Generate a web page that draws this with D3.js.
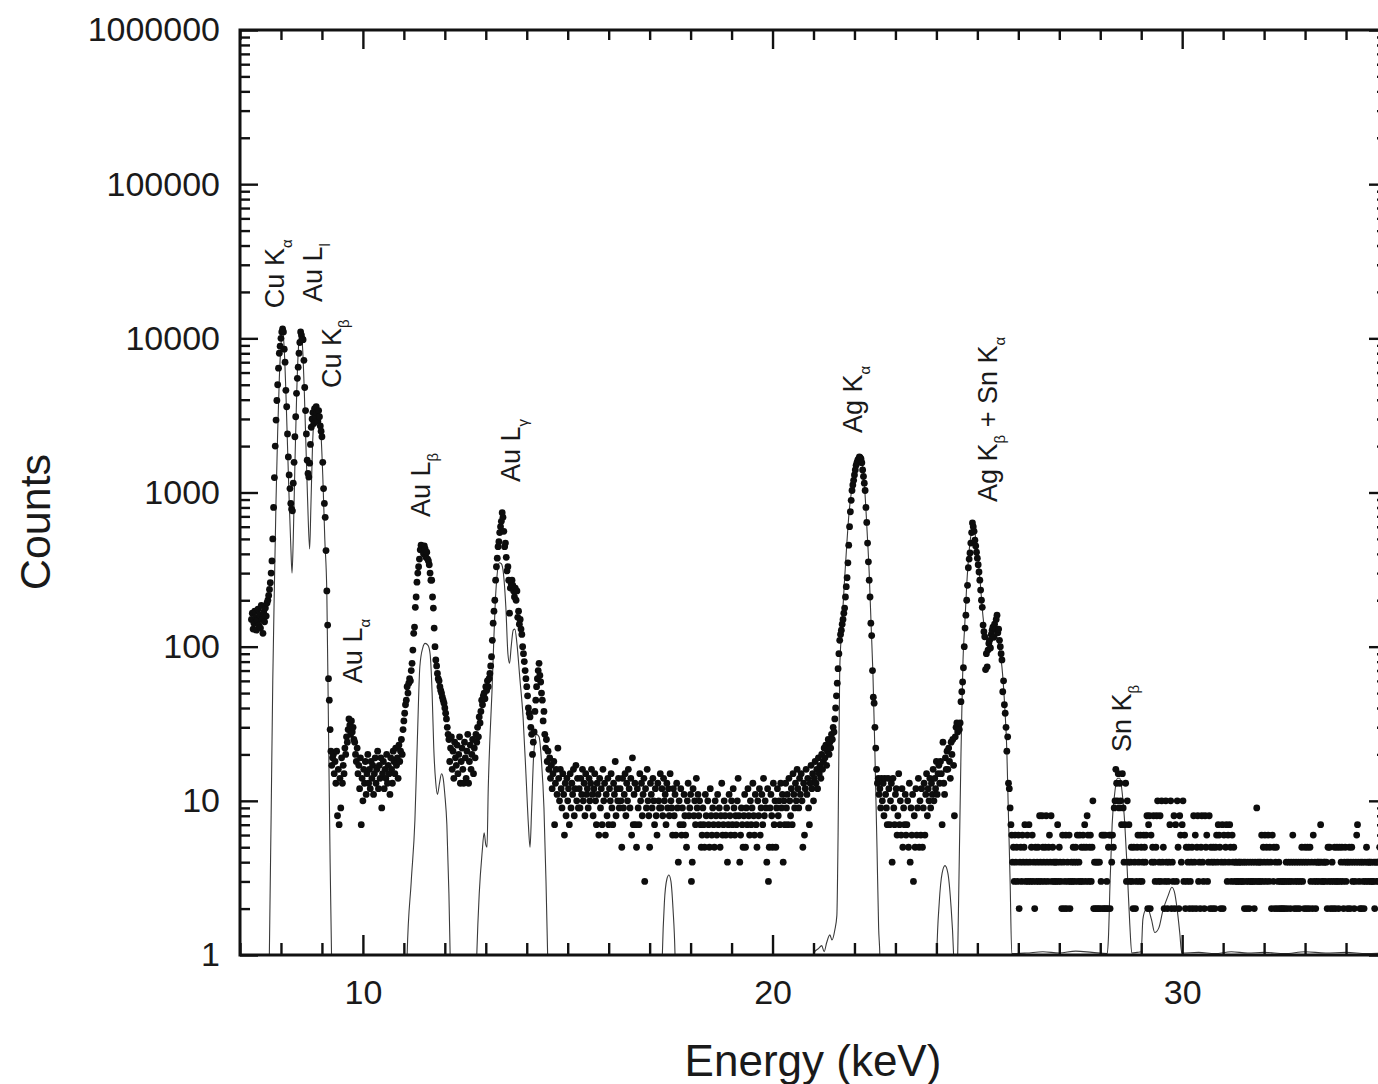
<!DOCTYPE html>
<html>
<head>
<meta charset="utf-8">
<script src="https://cdn.jsdelivr.net/npm/d3@7"></script>
<style>
  body { margin: 0; background: #ffffff; }
  text { font-family: "Liberation Sans", Arial, sans-serif; fill: #1a1a1a; }
</style>
</head>
<body>
<svg id="chart" width="1378" height="1084"></svg>
<script>
////////////////////////////////////////////////////////////////////////////////////
// Data
// measured spectrum: channel calibration (keV) and counts per channel, one keV per two lines
var startEnergy = 7.28;
var channelWidth = 0.02;
var counts = [
  // 7.28 keV
  150,165,130,142,170,155,128,148,175,138,160,132,185,150,122,168,145,178,158,192,200,215,235,260,300,
  360,500,800,1250,2000,2950,3950,5000,6400,8000,8900,10000,11000,11500,11000,8500,7000,4600,3600,2400,1700,1300,1060,850,780,
  // 8.28
  760,1150,1570,2300,3100,4400,5500,6500,8000,9400,11000,10500,9900,9800,7200,4800,3400,2400,1620,1330,1260,1550,2050,2650,3000,
  3300,2800,3500,3100,3600,3300,2900,3400,3100,2700,2500,2300,1570,1060,850,690,420,230,138,62,45,29,21,17,19,
  // 9.28
  20,15,18,13,21,8,16,7,14,9,19,13,17,15,22,20,26,24,29,34,31,27,33,28,30,
  25,24,20,18,22,15,17,12,19,7,14,10,16,13,18,11,15,20,13,16,12,18,14,17,11,
  // 10.28
  15,19,13,16,21,12,17,14,19,9,15,18,12,16,14,20,13,17,15,11,19,16,13,21,18,
  15,22,17,19,14,23,18,21,25,20,29,33,37,42,45,55,50,58,62,60,70,78,95,122,134,
  // 11.28
  180,210,262,300,330,370,425,455,440,420,400,450,430,380,410,370,360,340,300,270,270,210,178,132,100,
  82,75,67,62,60,55,52,50,47,45,43,40,37,34,30,27,25,18,22,26,16,21,14,24,19,
  // 12.28
  17,23,15,20,26,13,18,22,16,13,24,19,14,21,27,13,18,23,16,20,25,15,22,19,27,
  24,30,26,35,32,38,45,42,48,50,46,55,52,60,55,62,67,75,86,110,142,170,200,270,330,
  // 13.28
  375,445,480,550,600,650,740,690,560,445,470,380,310,330,270,165,240,255,270,250,230,210,240,200,230,
  155,170,140,150,130,120,100,90,80,70,62,55,48,40,37,35,30,27,20,24,28,38,45,55,62,
  // 14.28
  70,78,65,59,50,45,33,38,27,22,25,18,21,16,19,14,17,12,15,18,7,13,16,11,22,
  14,10,16,12,9,15,11,6,13,8,14,10,12,7,15,9,13,11,16,8,12,17,10,14,9,
  // 15.28
  12,9,14,11,16,10,13,8,15,11,12,9,14,10,13,16,11,8,12,15,10,7,13,11,6,
  14,9,12,7,16,10,13,6,11,8,14,7,12,10,15,9,7,13,11,18,8,12,10,14,9,
  // 16.28
  12,10,5,14,9,11,15,8,13,10,16,12,9,14,6,19,7,11,13,7,5,12,9,7,15,
  10,13,8,11,14,3,12,9,16,10,8,5,13,11,9,14,10,7,12,8,6,13,10,9,15,
  // 17.28
  9,12,8,14,10,11,7,13,9,12,8,15,10,9,6,12,8,11,6,13,9,4,10,7,12,
  6,9,7,11,8,6,5,10,13,8,9,11,3,4,12,8,10,7,14,9,11,8,10,7,5,
  // 18.28
  6,9,7,5,11,8,6,10,7,5,12,8,6,9,7,5,10,8,6,11,7,9,5,8,13,
  6,7,10,8,6,9,4,7,11,8,6,10,7,12,9,6,8,7,10,14,8,4,6,9,7,
  // 19.28
  5,8,11,5,9,7,12,8,6,10,7,9,13,8,6,11,7,5,10,8,12,6,9,11,7,
  14,8,10,9,4,12,3,5,9,11,8,5,13,7,10,5,9,12,8,10,7,13,9,11,4,
  // 20.28
  10,7,13,9,11,7,14,10,8,12,7,15,11,9,13,10,16,12,9,14,11,15,10,5,13,
  6,12,16,11,14,9,7,13,17,12,15,10,14,18,13,16,12,19,15,17,14,20,16,18,22,
  // 21.28
  19,23,17,21,25,20,24,22,27,25,30,28,34,40,48,58,72,90,110,120,128,140,150,165,178,
  210,245,280,350,455,600,750,890,1030,1120,1200,1300,1400,1500,1560,1620,1650,1700,1680,1650,1560,1400,1270,1150,1030,
  // 22.28
  800,640,470,355,270,210,142,118,70,47,43,30,22,16,13,14,11,12,9,14,10,13,8,14,11,
  9,7,14,12,7,10,13,4,14,9,7,11,12,6,8,15,7,10,6,12,5,9,7,11,6,
  // 23.28
  7,10,5,13,4,9,6,11,3,8,5,12,6,9,14,5,10,6,12,5,9,13,6,11,15,
  8,12,10,14,9,13,11,16,10,14,12,18,11,15,17,13,18,15,7,24,13,11,19,16,21,
  // 24.28
  16,22,18,14,24,20,25,17,8,26,30,32,28,31,29,32,44,51,59,73,100,132,160,200,250,
  325,370,405,470,550,635,600,560,490,450,410,375,340,305,270,233,200,180,138,125,116,71,90,74,95,
  // 25.28
  105,110,98,120,128,134,115,140,130,150,160,123,130,110,100,90,82,51,60,42,37,30,21,26,13,
  12,9,7,6,4,5,3,6,4,5,3,6,2,4,5,3,6,4,5,7,3,4,6,3,7,
  // 26.28
  4,3,5,6,3,4,2,5,3,4,5,3,8,4,3,8,5,4,3,5,8,4,3,5,6,
  4,8,3,5,4,3,4,3,4,7,3,5,4,3,2,6,4,2,3,6,2,4,3,6,2,
  // 27.28
  3,4,3,5,4,3,5,4,6,3,4,6,3,5,3,6,5,7,3,5,8,6,3,5,6,
  3,5,10,2,4,2,4,2,4,2,4,2,3,6,2,6,2,6,2,3,2,5,6,2,6,
  // 28.28
  4,6,5,9,10,16,13,10,15,9,13,10,7,15,9,4,7,13,3,10,4,7,3,4,5,
  3,2,5,4,2,3,5,6,4,3,6,5,3,4,6,5,4,6,8,2,7,8,2,6,4,
  // 29.28
  5,8,4,3,5,8,10,3,4,8,3,10,4,5,2,3,10,4,2,3,4,7,10,2,4,
  3,8,2,7,3,10,5,2,8,6,4,7,10,3,6,2,5,3,4,5,2,3,4,5,2,
  // 30.28
  8,4,6,2,5,8,3,4,2,5,8,4,3,2,8,5,6,3,4,8,2,5,4,2,5,
  4,2,5,6,4,7,6,5,2,4,7,2,6,4,5,7,3,6,4,7,5,3,6,4,5,
  // 31.28
  3,4,4,3,3,4,4,3,4,3,3,4,2,4,3,2,4,3,2,4,3,3,4,3,2,
  4,3,9,4,3,4,3,4,6,3,5,4,6,3,5,4,6,3,5,4,2,6,3,5,2,
  // 32.28
  4,5,2,3,4,2,3,2,3,2,3,2,3,4,2,3,4,3,2,4,3,6,4,2,3,
  4,2,3,4,2,3,4,5,3,4,2,5,4,2,5,4,2,5,3,4,2,6,3,4,2,
  // 33.28
  3,4,4,3,4,7,4,3,3,4,4,3,4,2,5,3,5,2,3,4,2,3,5,2,3,
  5,3,2,5,3,4,5,3,2,4,5,3,4,2,4,5,2,4,5,3,4,2,3,4,6,
  // 34.28
  7,4,3,2,4,2,4,3,2,4,3,5,4,3,4,4,3,4,3,3,4,2,4,3,4,4,3,5,3,4,3,4,4,3,4,3,4
];

// simulated spectrum (thin line), [energy keV, counts]; values below 1 fall under the axis
var fitCurve = [
  [7.00,0.4],[7.70,0.4],[7.72,1.2],[7.76,8],[7.80,60],[7.84,250],[7.88,900],[7.92,2500],[7.96,5500],
  [8.00,9000],[8.04,11200],[8.08,8500],[8.12,4500],[8.16,2000],[8.20,900],[8.24,450],[8.27,300],
  [8.30,500],[8.34,1500],[8.38,4000],[8.42,8000],[8.46,10800],[8.49,11000],[8.53,8500],[8.57,4500],
  [8.61,2000],[8.65,900],[8.70,430],[8.73,800],[8.77,2000],[8.82,3200],[8.87,3500],[8.92,3400],
  [8.97,2600],[9.02,1300],[9.07,500],[9.12,220],[9.16,30],[9.20,4],[9.24,0.8],[9.27,0.4],
  [11.05,0.4],[11.08,1],[11.18,3],[11.27,7.5],[11.33,25],[11.39,74],[11.46,98],[11.52,105],[11.59,102],
  [11.64,90],[11.69,50],[11.73,22],[11.78,13],[11.82,11],[11.87,13],[11.92,15],[11.96,14],[12.00,11],
  [12.05,7],[12.10,2.5],[12.13,1],[12.16,0.4],
  [12.74,0.4],[12.78,1],[12.84,2.5],[12.91,4.6],[12.96,6.2],[13.00,5.2],[13.03,5],[13.06,12],[13.10,25],
  [13.15,50],[13.19,100],[13.23,190],[13.27,280],[13.33,350],[13.38,345],[13.43,300],[13.49,180],
  [13.54,90],[13.58,78],[13.62,100],[13.67,128],[13.71,130],[13.76,105],[13.83,63],[13.91,35],
  [13.98,15],[14.04,7],[14.08,5],[14.12,9],[14.17,20],[14.24,27],[14.30,26],[14.36,18],[14.42,9],
  [14.47,3],[14.51,1],[14.54,0.4],
  [17.28,0.4],[17.31,1],[17.36,2.2],[17.42,3.1],[17.47,3.3],[17.52,3.0],[17.57,2.0],[17.62,1],[17.65,0.4],
  [20.95,0.4],[21.03,1.05],[21.12,1.1],[21.20,1.15],[21.26,1.05],[21.32,1.2],[21.40,1.35],[21.45,1.25],
  [21.52,1.45],[21.57,1.8],[21.60,6],[21.64,70],[21.69,130],[21.75,250],[21.81,450],[21.87,750],
  [21.93,1030],[22.00,1350],[22.07,1600],[22.13,1700],[22.19,1550],[22.25,1050],[22.31,550],[22.36,300],
  [22.41,130],[22.45,68],[22.50,20],[22.55,5],[22.59,1.5],[22.62,1],[22.65,0.4],
  [23.98,0.4],[24.01,1],[24.07,2.2],[24.14,3.4],[24.21,3.8],[24.28,3.4],[24.35,2.2],[24.42,1],[24.46,0.4],
  [24.49,0.4],[24.52,1],[24.55,3],[24.57,6.5],[24.60,20],[24.62,37],[24.65,82],[24.69,134],[24.74,250],
  [24.80,420],[24.86,560],[24.91,600],[24.96,500],[25.01,380],[25.06,280],[25.14,155],[25.23,110],
  [25.31,105],[25.38,115],[25.44,123],[25.50,110],[25.56,90],[25.60,74],[25.67,40],[25.72,21],
  [25.75,10],[25.80,3],[25.84,1.02],
  [26.2,1.03],[26.6,1.05],[27.0,1.03],[27.4,1.06],[27.8,1.04],[28.17,1.02],[28.20,1.3],[28.24,3],
  [28.29,7],[28.35,11],[28.42,14],[28.48,14],[28.54,11],[28.60,7],[28.66,3.5],[28.72,1.6],[28.77,1.03],
  [28.90,1.04],[29.00,1.05],[29.04,1.7],[29.10,1.95],[29.16,2.0],[29.25,1.7],[29.33,1.4],[29.43,1.5],
  [29.53,1.95],[29.65,2.4],[29.75,2.75],[29.82,2.5],[29.87,2.05],[29.94,1.4],[29.99,1.03],[30.4,1.04],
  [30.8,1.02],[31.2,1.05],[31.6,1.03],[32.0,1.04],[32.5,1.02],[33.0,1.05],[33.5,1.03],[34.0,1.04],
  [34.5,1.02],[35.0,1.03]
];

// tick values
var xMajorTicks = [10, 20, 30];
var yMajorTicks = [1, 10, 100, 1000, 10000, 100000, 1000000];

// peak labels: text, subscript, trailing text, anchor (energy, counts)
var peakLabels = [
  {text: "Cu K", sub: "α", tail: "", energy: 8.07, value: 15700},
  {text: "Au L", sub: "l", tail: "", energy: 9.00, value: 17200},
  {text: "Cu K", sub: "β", tail: "", energy: 9.47, value: 4760},
  {text: "Au L", sub: "α", tail: "", energy: 9.98, value: 58},
  {text: "Au L", sub: "β", tail: "", energy: 11.64, value: 693},
  {text: "Au L", sub: "γ", tail: "", energy: 13.83, value: 1170},
  {text: "Ag K", sub: "α", tail: "", energy: 22.18, value: 2430},
  {text: "Ag K", sub: "β", tail: " + Sn K", tailSub: "α", energy: 25.48, value: 867},
  {text: "Sn K", sub: "β", tail: "", energy: 28.75, value: 20.7}
];

////////////////////////////////////////////////////////////////////////////////////
// Scales
var svg = d3.select("#chart");
var plotLeft = 240, plotRight = 1387, plotTop = 30, plotBottom = 955;

var xScale = d3.scaleLinear()
               .domain([7, 35])
               .range([plotLeft, plotRight]);
var yScale = d3.scaleLog()
               .domain([1, 1000000])
               .range([plotBottom, plotTop]);

svg.append("rect")
   .attr("width", 1378)
   .attr("height", 1084)
   .style("fill", "white");

svg.append("clipPath")
   .attr("id", "plotClip")
   .append("rect")
   .attr("x", plotLeft)
   .attr("y", plotTop)
   .attr("width", plotRight - plotLeft)
   .attr("height", plotBottom - plotTop);

var plot = svg.append("g").attr("clip-path", "url(#plotClip)");

////////////////////////////////////////////////////////////////////////////////////
// Simulated line
var fitLine = d3.line()
                .x(function(d) { return xScale(d[0]); })
                .y(function(d) { return yScale(d[1]); })
                .curve(d3.curveMonotoneX);

plot.append("path")
    .datum(fitCurve)
    .attr("d", fitLine)
    .style("fill", "none")
    .style("stroke", "#3a3a3a")
    .style("stroke-width", 1.1);

////////////////////////////////////////////////////////////////////////////////////
// Measured dots
var measured = counts.map(function(c, i) {
  return [startEnergy + channelWidth * i, c];
});

plot.selectAll(".dot")
    .data(measured)
    .enter()
    .append("circle")
    .attr("class", "dot")
    .attr("cx", function(d) { return xScale(d[0]); })
    .attr("cy", function(d) { return yScale(d[1]); })
    .attr("r", 3.4)
    .style("fill", "#0d0d0d");

////////////////////////////////////////////////////////////////////////////////////
// Axes (ticks point inwards on all four sides)
var xMinorTicks = d3.range(7, 36).filter(function(d) { return d % 10 !== 0; });
var yMinorTicks = [];
yMajorTicks.slice(0, -1).forEach(function(p) {
  for (var k = 2; k < 10; k++) { yMinorTicks.push(p * k); }
});

function styleAxis(g) {
  g.select(".domain").remove();
  g.selectAll(".tick line").style("stroke", "#111").style("stroke-width", 2.4);
  g.selectAll(".tick text").style("font-size", "34px").style("fill", "#1a1a1a")
   .style("font-family", '"Liberation Sans", Arial, sans-serif');
}

// bottom
svg.append("g").attr("transform", "translate(0," + plotBottom + ")")
   .call(d3.axisBottom(xScale).tickValues(xMinorTicks).tickSize(-12).tickSizeOuter(0).tickFormat(""))
   .call(styleAxis);
svg.append("g").attr("transform", "translate(0," + plotBottom + ")")
   .call(d3.axisBottom(xScale).tickValues(xMajorTicks).tickSize(-20).tickSizeOuter(0).tickPadding(25)
           .tickFormat(d3.format("d")))
   .call(styleAxis);
// top
svg.append("g").attr("transform", "translate(0," + plotTop + ")")
   .call(d3.axisTop(xScale).tickValues(xMinorTicks).tickSize(-10).tickSizeOuter(0).tickFormat(""))
   .call(styleAxis);
svg.append("g").attr("transform", "translate(0," + plotTop + ")")
   .call(d3.axisTop(xScale).tickValues(xMajorTicks).tickSize(-19).tickSizeOuter(0).tickFormat(""))
   .call(styleAxis);
// left
svg.append("g").attr("transform", "translate(" + plotLeft + ",0)")
   .call(d3.axisLeft(yScale).tickValues(yMinorTicks).tickSize(-10).tickSizeOuter(0).tickFormat(""))
   .call(styleAxis);
svg.append("g").attr("transform", "translate(" + plotLeft + ",0)")
   .call(d3.axisLeft(yScale).tickValues(yMajorTicks).tickSize(-18).tickSizeOuter(0).tickPadding(20)
           .tickFormat(d3.format("d")))
   .call(styleAxis);
// right
svg.append("g").attr("transform", "translate(" + plotRight + ",0)")
   .call(d3.axisRight(yScale).tickValues(yMinorTicks).tickSize(-10).tickSizeOuter(0).tickFormat(""))
   .call(styleAxis);
svg.append("g").attr("transform", "translate(" + plotRight + ",0)")
   .call(d3.axisRight(yScale).tickValues(yMajorTicks).tickSize(-18).tickSizeOuter(0).tickFormat(""))
   .call(styleAxis);

// frame
svg.append("rect")
   .attr("x", plotLeft)
   .attr("y", plotTop)
   .attr("width", plotRight - plotLeft)
   .attr("height", plotBottom - plotTop)
   .style("fill", "none")
   .style("stroke", "#111")
   .style("stroke-width", 3);

////////////////////////////////////////////////////////////////////////////////////
// Axis titles
svg.append("text")
   .attr("x", 813)
   .attr("y", 1076)
   .attr("text-anchor", "middle")
   .style("font-size", "44px")
   .text("Energy (keV)");

svg.append("text")
   .attr("transform", "translate(50,522) rotate(-90)")
   .attr("text-anchor", "middle")
   .style("font-size", "43px")
   .text("Counts");

////////////////////////////////////////////////////////////////////////////////////
// Peak labels (rotated, reading upwards)
peakLabels.forEach(function(d) {
  var t = svg.append("text")
             .attr("transform", "translate(" + xScale(d.energy) + "," + yScale(d.value) + ") rotate(-90)")
             .style("font-size", "27px");
  t.append("tspan").text(d.text);
  t.append("tspan").attr("dy", 8).style("font-size", "15px").text(d.sub);
  if (d.tail) {
    t.append("tspan").attr("dy", -8).text(d.tail);
    t.append("tspan").attr("dy", 8).style("font-size", "15px").text(d.tailSub);
  }
});
</script>
</body>
</html>
